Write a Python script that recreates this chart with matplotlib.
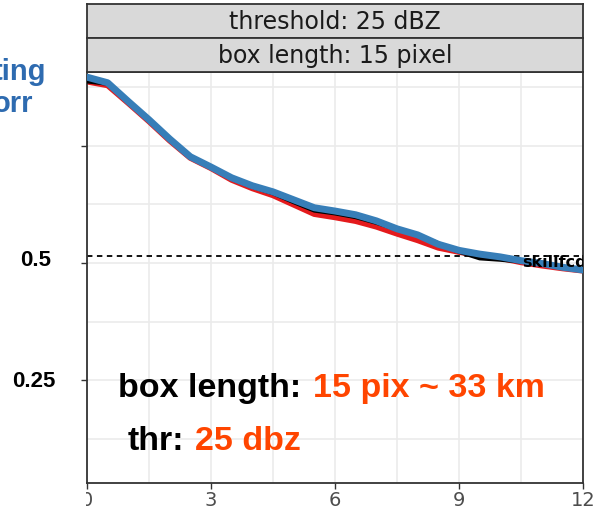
import matplotlib
matplotlib.use("Agg")
import matplotlib.pyplot as plt
from matplotlib.patches import Rectangle

# lead time (h)
lead = [0, 0.5, 1, 1.5, 2, 2.5, 3, 3.5, 4, 4.5, 5, 5.5, 6,
        6.5, 7, 7.5, 8, 8.5, 9, 9.5, 10, 10.5, 11, 11.5, 12]

# skill of the three runs
red_skill = [0.888, 0.880, 0.842, 0.803, 0.762, 0.725, 0.703, 0.678, 0.660,
             0.645, 0.625, 0.605, 0.598, 0.590, 0.578, 0.563, 0.549, 0.533,
             0.524, 0.517, 0.511, 0.502, 0.495, 0.489, 0.484]
black_skill = [0.888, 0.883, 0.845, 0.805, 0.765, 0.727, 0.704, 0.680, 0.663,
               0.649, 0.630, 0.612, 0.606, 0.598, 0.586, 0.572, 0.560, 0.542,
               0.524, 0.510, 0.507, 0.503, 0.497, 0.492, 0.487]
blue_skill = [0.897, 0.885, 0.845, 0.806, 0.765, 0.727, 0.705, 0.682, 0.665,
              0.652, 0.635, 0.618, 0.611, 0.603, 0.590, 0.573, 0.560, 0.540,
              0.527, 0.519, 0.513, 0.505, 0.499, 0.491, 0.485]

skill_ref = 0.514
xticks = [0, 3, 6, 9, 12]
strip_labels = ["threshold: 25 dBZ", "box length: 15 pixel"]

W, H = 600, 509
fig = plt.figure(figsize=(6, 5.09), dpi=100)

def fx(px):
    return px / W

def fy(py):
    return (H - py) / H

ax = fig.add_axes([fx(87), fy(483), fx(583) - fx(87), fy(72) - fy(483)])
ax.set_xlim(0, 12)
ax.set_ylim(0.03, 0.908)

# grid
for g in [1.5 * i for i in range(9)]:
    ax.axvline(g, color="#ebebeb", lw=1.2, zorder=0)
for g in [0.125 * i for i in range(1, 8)]:
    ax.axhline(g, color="#ebebeb", lw=1.2, zorder=0)

ax.axhline(skill_ref, color="black", lw=1.3, ls=(0, (3, 2.5)), zorder=1)

ax.plot(lead, red_skill, color="#e41a1c", lw=4.5, solid_capstyle="round",
        solid_joinstyle="round", zorder=2)
ax.plot(lead, black_skill, color="black", lw=3, solid_capstyle="round",
        solid_joinstyle="round", zorder=3)
ax.plot(lead, blue_skill, color="#377eb8", lw=5, solid_capstyle="round",
        solid_joinstyle="round", zorder=4)

ax.text(10.52, 0.502, "skillfcd1", fontsize=11.5, fontweight="bold",
        va="center", ha="left", clip_on=True, zorder=5)

ax.set_xticks(xticks)
ax.set_xticklabels([str(t) for t in xticks])
ax.set_yticks([0.25, 0.5, 0.75])
ax.set_yticklabels([])
ax.tick_params(axis="x", length=4, width=1, color="#333333", labelsize=14,
               labelcolor="#4d4d4d", pad=1.5)
ax.tick_params(axis="y", length=4, width=1, color="#333333")
for s in ax.spines.values():
    s.set_color("#333333")
    s.set_linewidth(1.3)

# facet strips
for i, lab in enumerate(strip_labels):
    top = 4 + 34 * i
    sax = fig.add_axes([fx(87), fy(top + 34), fx(583) - fx(87), 34 / H])
    sax.set_facecolor("#d9d9d9")
    sax.set_xticks([])
    sax.set_yticks([])
    for s in sax.spines.values():
        s.set_color("#333333")
        s.set_linewidth(1.3)
    sax.text(0.5, 0.47, lab, ha="center", va="center", fontsize=17,
             color="#1a1a1a", transform=sax.transAxes)

# hide left half of the "0" tick label like the slide does
fig.patches.append(Rectangle((fx(55), 0), fx(86) - fx(55), fy(486),
                             transform=fig.transFigure, facecolor="white",
                             edgecolor="none", zorder=10))

# slide overlay text
bold = dict(family="Liberation Sans", fontweight="bold")
fig.text(fx(20), fy(266), "0.5", fontsize=16, va="baseline", **bold)
fig.text(fx(12), fy(387), "0.25", fontsize=16, va="baseline", **bold)
fig.text(fx(46), fy(80), "ting", fontsize=21, color="#2e6bb0", ha="right",
         va="baseline", **bold)
fig.text(fx(33), fy(112), "orr", fontsize=21, color="#2e6bb0", ha="right",
         va="baseline", **bold)

fig.text(fx(118), fy(397), "box length:", fontsize=24.5, va="baseline", **bold)
fig.text(fx(313), fy(397), "15 pix ~ 33 km", fontsize=24.5, color="#ff4500",
         va="baseline", **bold)
fig.text(fx(128), fy(450), "thr:", fontsize=24.5, va="baseline", **bold)
fig.text(fx(195), fy(450), "25 dbz", fontsize=24.5, color="#ff4500",
         va="baseline", **bold)

fig.savefig("out.png", dpi=100)
